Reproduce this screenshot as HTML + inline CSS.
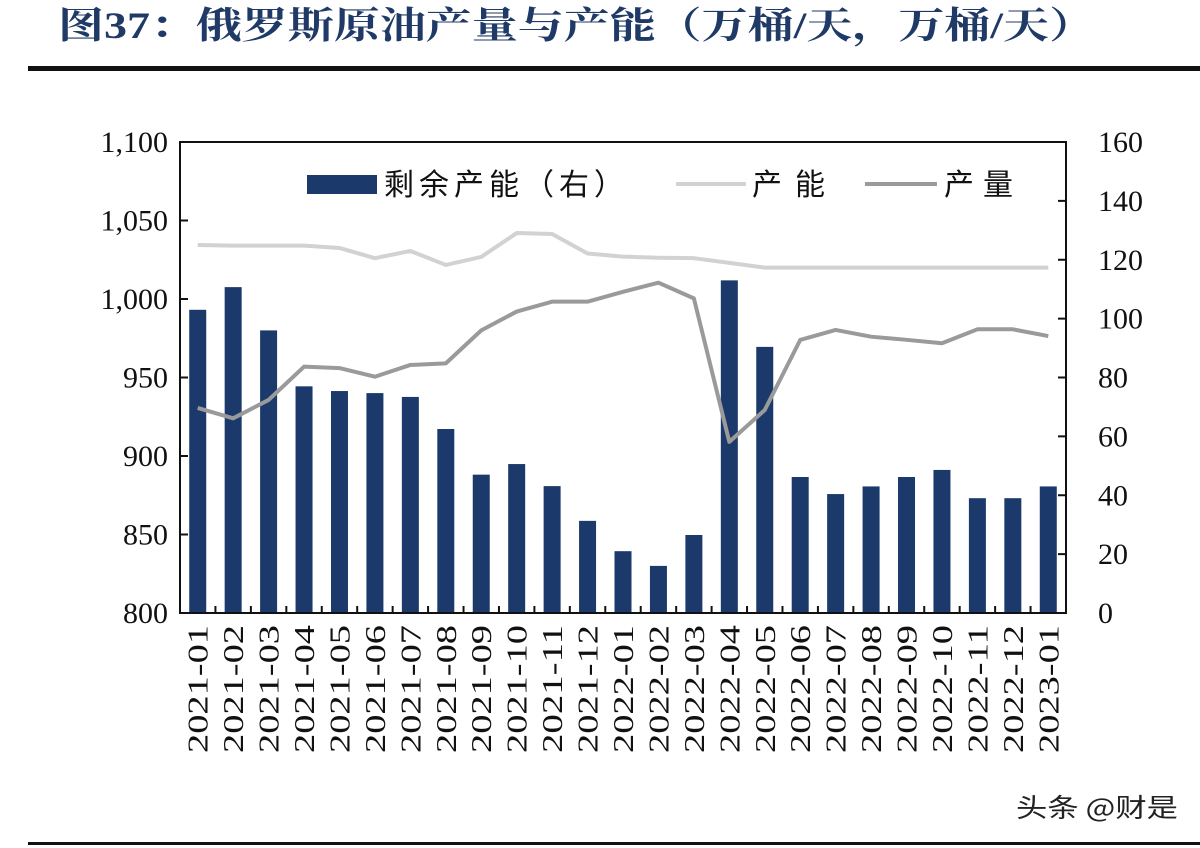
<!DOCTYPE html>
<html><head><meta charset="utf-8"><style>
html,body{margin:0;padding:0;background:#fff;}
svg{display:block;}
</style></head><body>
<svg id="chart" width="1200" height="848" viewBox="0 0 1200 848" xmlns="http://www.w3.org/2000/svg">
<text x="58" y="38" font-family="'Liberation Serif','Noto Serif CJK SC',serif" font-weight="bold" font-size="37" fill="#1f3a66" textLength="1037" lengthAdjust="spacingAndGlyphs">图37：俄罗斯原油产量与产能（万桶/天，万桶/天）</text>
<rect x="28" y="66" width="1172" height="5" fill="#111"/>
<rect x="28" y="842" width="1172" height="3" fill="#111"/>
<text x="1016" y="817" font-family="'Noto Sans CJK SC',sans-serif" font-size="26" fill="#222" textLength="162" lengthAdjust="spacingAndGlyphs">头条 @财是</text>
<g id="plot"></g>
</svg>
<script>
const categories=["2021-01","2021-02","2021-03","2021-04","2021-05","2021-06","2021-07","2021-08","2021-09","2021-10","2021-11","2021-12","2022-01","2022-02","2022-03","2022-04","2022-05","2022-06","2022-07","2022-08","2022-09","2022-10","2022-11","2022-12","2023-01"];
const spareCapacity=[103,110.7,96,77,75.4,74.7,73.4,62.5,47,50.6,43.1,31.3,21,16,26.5,113,90.4,46.2,40.4,43,46.2,48.6,39,39,43];
const capacity=[1034.4,1034,1034,1034,1032.5,1026,1030.6,1021.7,1026.8,1042,1041.4,1029,1027,1026.3,1026,1023,1020,1020,1020,1020,1020,1020,1020,1020,1020];
const production=[930.6,924,935.7,956.9,956,950.5,958,959,980,992,998.3,998.3,1004.6,1010.4,1000.4,909,929.3,973.9,980.3,976,974,971.8,980.7,980.7,976.4];
const leftTicks=[800,850,900,950,1000,1050,1100];
const rightTicks=[0,20,40,60,80,100,120,140,160];

const NS="http://www.w3.org/2000/svg";
const g=document.getElementById('plot');
const L=180,R=1066,T=142,B=613;
const bw=(R-L)/categories.length;
const xC=i=>L+bw*(i+0.5);
const yL=v=>B-(v-800)/300*(B-T);
const yR=v=>B-v/160*(B-T);
function mk(tag,attrs){const e=document.createElementNS(NS,tag);for(const k in attrs)e.setAttribute(k,attrs[k]);g.appendChild(e);return e;}
const serif="'Liberation Serif',serif";
const cjk="'Liberation Sans','Noto Sans CJK SC',sans-serif";

spareCapacity.forEach((v,i)=>{
  const r=mk('rect',{x:xC(i)-8.5,y:yR(v),width:17,height:B-yR(v),fill:'#1b3a6b'});
  
  
});
function line(arr,color,name){
  const p=mk('polyline',{points:arr.map((v,i)=>xC(i)+','+yL(v)).join(' '),fill:'none',stroke:color,'stroke-width':4,'stroke-linejoin':'round'});
  
  
}
line(capacity,'#d2d2d2','capacity-line');
line(production,'#9a9a9a','production-line');
const f=mk('rect',{x:L,y:T,width:R-L,height:B-T,fill:'none',stroke:'#111','stroke-width':2});


leftTicks.forEach(v=>{
  mk('line',{x1:L,x2:L+8,y1:yL(v),y2:yL(v),stroke:'#111','stroke-width':2});
  const t=mk('text',{x:168,y:yL(v)+10,'text-anchor':'end','font-family':serif,'font-size':30,fill:'#111'});
  t.textContent=v.toLocaleString('en-US');
  
  
});
rightTicks.forEach(v=>{
  mk('line',{x1:R-8,x2:R,y1:yR(v),y2:yR(v),stroke:'#111','stroke-width':2});
  const t=mk('text',{x:1098,y:yR(v)+10,'font-family':serif,'font-size':30,fill:'#111'});
  t.textContent=v;
  
  
});
categories.forEach((c,i)=>{
  mk('line',{x1:L+bw*i,x2:L+bw*i,y1:B,y2:B-7,stroke:'#111','stroke-width':2});
  const t=mk('text',{x:0,y:0,'text-anchor':'end','font-family':serif,'font-size':29,fill:'#111',transform:`translate(${xC(i)+10},${625}) rotate(-90)`,textLength:128,lengthAdjust:'spacingAndGlyphs'});
  t.textContent=c;
  
  
});
const s=mk('rect',{x:307,y:175,width:70,height:19,fill:'#1b3a6b'});


const t1=mk('text',{x:384,y:195,'font-family':cjk,'font-size':30,fill:'#111',textLength:240,lengthAdjust:'spacing'});t1.textContent='剩余产能（右）';


const l2=mk('line',{x1:676,x2:746,y1:184,y2:184,stroke:'#d2d2d2','stroke-width':4});


const t2=mk('text',{x:752,y:195,'font-family':cjk,'font-size':30,fill:'#111',textLength:73,lengthAdjust:'spacing'});t2.textContent='产能';


const l3=mk('line',{x1:865,x2:937,y1:184,y2:184,stroke:'#9a9a9a','stroke-width':4});


const t3=mk('text',{x:944,y:195,'font-family':cjk,'font-size':30,fill:'#111',textLength:69,lengthAdjust:'spacing'});t3.textContent='产量';


</script>
</body></html>
